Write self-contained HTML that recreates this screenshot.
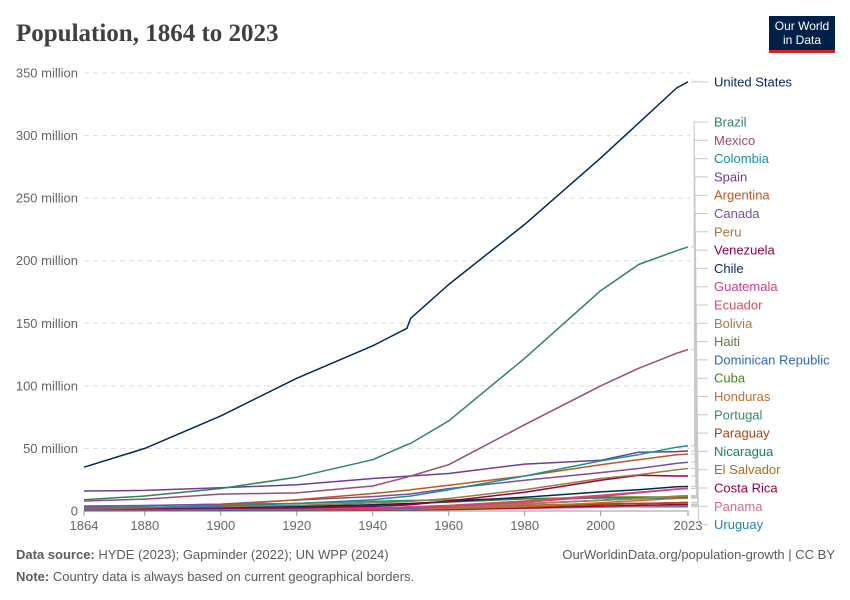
<!DOCTYPE html>
<html><head><meta charset="utf-8"><style>
body{margin:0;background:#fff;font-family:"Liberation Sans",sans-serif}
#wrap{position:relative;width:850px;height:600px;overflow:hidden}
</style></head><body>
<div id="wrap">
<svg id="svg" width="850" height="600" xmlns="http://www.w3.org/2000/svg">
<text x="16" y="41" font-family="Liberation Serif, serif" font-size="25" font-weight="bold" fill="#404040">Population, 1864 to 2023</text>
<g>
<rect x="769" y="16" width="66" height="37" fill="#002147"/>
<rect x="769" y="50" width="66" height="3" fill="#ce261e"/>
<text x="802" y="30" text-anchor="middle" font-size="12" fill="#fff">Our World</text>
<text x="802" y="44" text-anchor="middle" font-size="12" fill="#fff">in Data</text>
</g>
<g id="grid"></g><g id="xaxis"></g><g id="lines"></g><g id="legend"></g>
<text x="16" y="559" font-size="13" fill="#5b5b5b"><tspan font-weight="bold">Data source:</tspan> HYDE (2023); Gapminder (2022); UN WPP (2024)</text>
<text x="835" y="559" text-anchor="end" font-size="13" fill="#5b5b5b">OurWorldinData.org/population-growth | CC BY</text>
<text x="16" y="581" font-size="13" fill="#5b5b5b"><tspan font-weight="bold">Note:</tspan> Country data is always based on current geographical borders.</text>
</svg></div>
<script>
const years=[1864,1880,1900,1920,1940,1949,1950,1960,1980,2000,2010,2020,2023];
const countries=["United States","Brazil","Mexico","Colombia","Spain","Argentina","Canada","Peru","Venezuela","Chile","Guatemala","Ecuador","Bolivia","Haiti","Dominican Republic","Cuba","Honduras","Portugal","Paraguay","Nicaragua","El Salvador","Costa Rica","Panama","Uruguay"];
const colors=["#00295b","#2c8465","#9a4c72","#16919c","#6d3e91","#c05917","#7a4fa0","#a2793e","#970046","#00295b","#d73c83","#e04b64","#a57f4d","#578145","#286bbb","#3d8a1a","#c46d2e","#2f8e6b","#b4410b","#0d8a63","#b16a1f","#970046","#d56b8a","#1a8aa0"];
const usVals=[35,50,76,106,132,146,154,181,229,282,310,338,343];
const brazil=[9,12,18,27,41,53,54,72,122,176,197,208,211];
const mexico=[8,9.5,13.5,14.5,20,27,28,37,69,100,114,126,129];
const colombia=[2.5,3,4,6,9,11.7,12,17,28,40,45,51,52];
const spain=[16,16.5,18.5,21,26,27.8,28,30,37.5,40.5,47,47.5,48];
const argentina=[1.5,2.5,4.5,9,14,16.6,17,20.5,28,37,41,45,45.5];
const canada=[3.5,4.3,5.5,8.8,11.5,13.4,13.7,17.9,24.5,30.7,34,38,39];
const peru=[2.5,2.8,3.5,4.5,6.5,7.5,7.7,10,17,26,29,33,34];
const venezuela=[1.6,1.8,2.3,2.5,3.7,4.8,5,8,15,24.5,28.5,28,28];
const chile=[1.8,2,2.9,3.7,5,5.9,6,7.7,11,15.3,17,19.3,19.6];
const guatemala=[1,1.2,1.4,1.5,2.2,2.9,3,4,7,11.6,14.6,17.4,18];
const ecuador=[0.9,1,1.4,1.7,2.4,3.3,3.4,4.5,8,12.6,15,17.6,18];
const bolivia=[1.7,1.9,1.9,2,2.5,2.9,3,3.6,5.6,8.6,10,11.9,12.4];
const haiti=[1,1.1,1.4,1.6,2.5,3.1,3.2,3.9,5.8,8.6,10,11.3,11.7];
const domrep=[0.2,0.3,0.6,0.9,1.7,2.2,2.3,3.3,5.8,8.5,9.8,11,11.3];
const cuba=[1.4,1.5,1.6,3,4.5,5.8,5.9,7.1,9.7,11.1,11.2,11.2,11];
const honduras=[0.3,0.3,0.4,0.7,1.1,1.4,1.5,2,3.6,6.6,8.3,10.1,10.6];
const portugal=[4,4.4,5.4,6,7.7,8.4,8.4,8.9,9.8,10.3,10.6,10.3,10.3];
const paraguay=[0.4,0.4,0.5,0.7,1.1,1.4,1.4,1.9,3.2,5.3,6,6.6,6.9];
const nicaragua=[0.3,0.35,0.5,0.6,0.9,1.2,1.3,1.8,3.3,5.1,5.8,6.6,6.8];
const salvador=[0.5,0.5,0.8,1.1,1.6,1.9,2,2.8,4.6,5.9,6.1,6.3,6.4];
const costarica=[0.12,0.15,0.3,0.4,0.6,0.85,0.9,1.3,2.4,3.9,4.5,5.1,5.2];
const panama=[0.15,0.2,0.3,0.4,0.6,0.85,0.9,1.1,2,3,3.6,4.3,4.5];
const uruguay=[0.3,0.4,0.9,1.4,2,2.2,2.2,2.5,2.9,3.3,3.4,3.4,3.4];
const series=[usVals,brazil,mexico,colombia,spain,argentina,canada,peru,venezuela,chile,guatemala,ecuador,bolivia,haiti,domrep,cuba,honduras,portugal,paraguay,nicaragua,salvador,costarica,panama,uruguay];
const yTicks=[0,50,100,150,200,250,300,350];
const yTickLabels=["0","50 million","100 million","150 million","200 million","250 million","300 million","350 million"];
const xTicks=[1864,1880,1900,1920,1940,1960,1980,2000,2023];

const NS="http://www.w3.org/2000/svg";
const X0=84,X1=688,Y0=511,Y1=73;
const xs=y=>X0+(y-1864)/(2023-1864)*(X1-X0);
const ys=v=>Y0-v/350*(Y0-Y1);
function mk(t,a,p){const e=document.createElementNS(NS,t);for(const k in a)e.setAttribute(k,a[k]);p.appendChild(e);return e;}
const grid=document.getElementById('grid');
yTicks.forEach((t,i)=>{
  const y=ys(t);
  const l=mk('line',{x1:84,x2:690,y1:y,y2:y,stroke:'#ddd','stroke-dasharray':t===0?'':'5,4'},grid);
  
  
  const tx=mk('text',{x:78,y:y+4.5,'text-anchor':'end','font-size':13,fill:'#666'},grid);
  tx.textContent=yTickLabels[i];
  
  
});
const xa=document.getElementById('xaxis');
const ax=mk('line',{x1:84,x2:688,y1:Y0,y2:Y0,stroke:'#999'},xa);


xTicks.forEach(t=>{
  const x=xs(t);
  mk('line',{x1:x,x2:x,y1:Y0,y2:Y0+5,stroke:'#999'},xa);
  const tx=mk('text',{x:x,y:Y0+19,'text-anchor':'middle','font-size':13,fill:'#666'},xa);
  tx.textContent=t;
  
  
});
const lg=document.getElementById('lines'),leg=document.getElementById('legend');
for(let i=series.length-1;i>=0;i--){
  const d=series[i].map((v,j)=>(j?'L':'M')+xs(years[j]).toFixed(1)+','+ys(v).toFixed(1)).join('');
  const p=mk('path',{d:d,fill:'none',stroke:colors[i],'stroke-width':1.5,'stroke-linejoin':'round'},lg);
  
  
}
countries.forEach((c,i)=>{
  const ly=i===0?82:122+(i-1)*18.3;
  const dy=ys(series[i][series[i].length-1]);
  const bx=i===0?700:694+i*0.2;
  const cn=mk('path',{d:`M${X1+3},${dy.toFixed(1)}H${bx}V${ly}H708`,fill:'none',stroke:'#c8c8c8','stroke-width':1},leg);
  
  
  const t=mk('text',{x:714,y:ly+4.5,'font-size':13,fill:colors[i]},leg);
  t.textContent=c;
  
  
});
</script>
</body></html>
